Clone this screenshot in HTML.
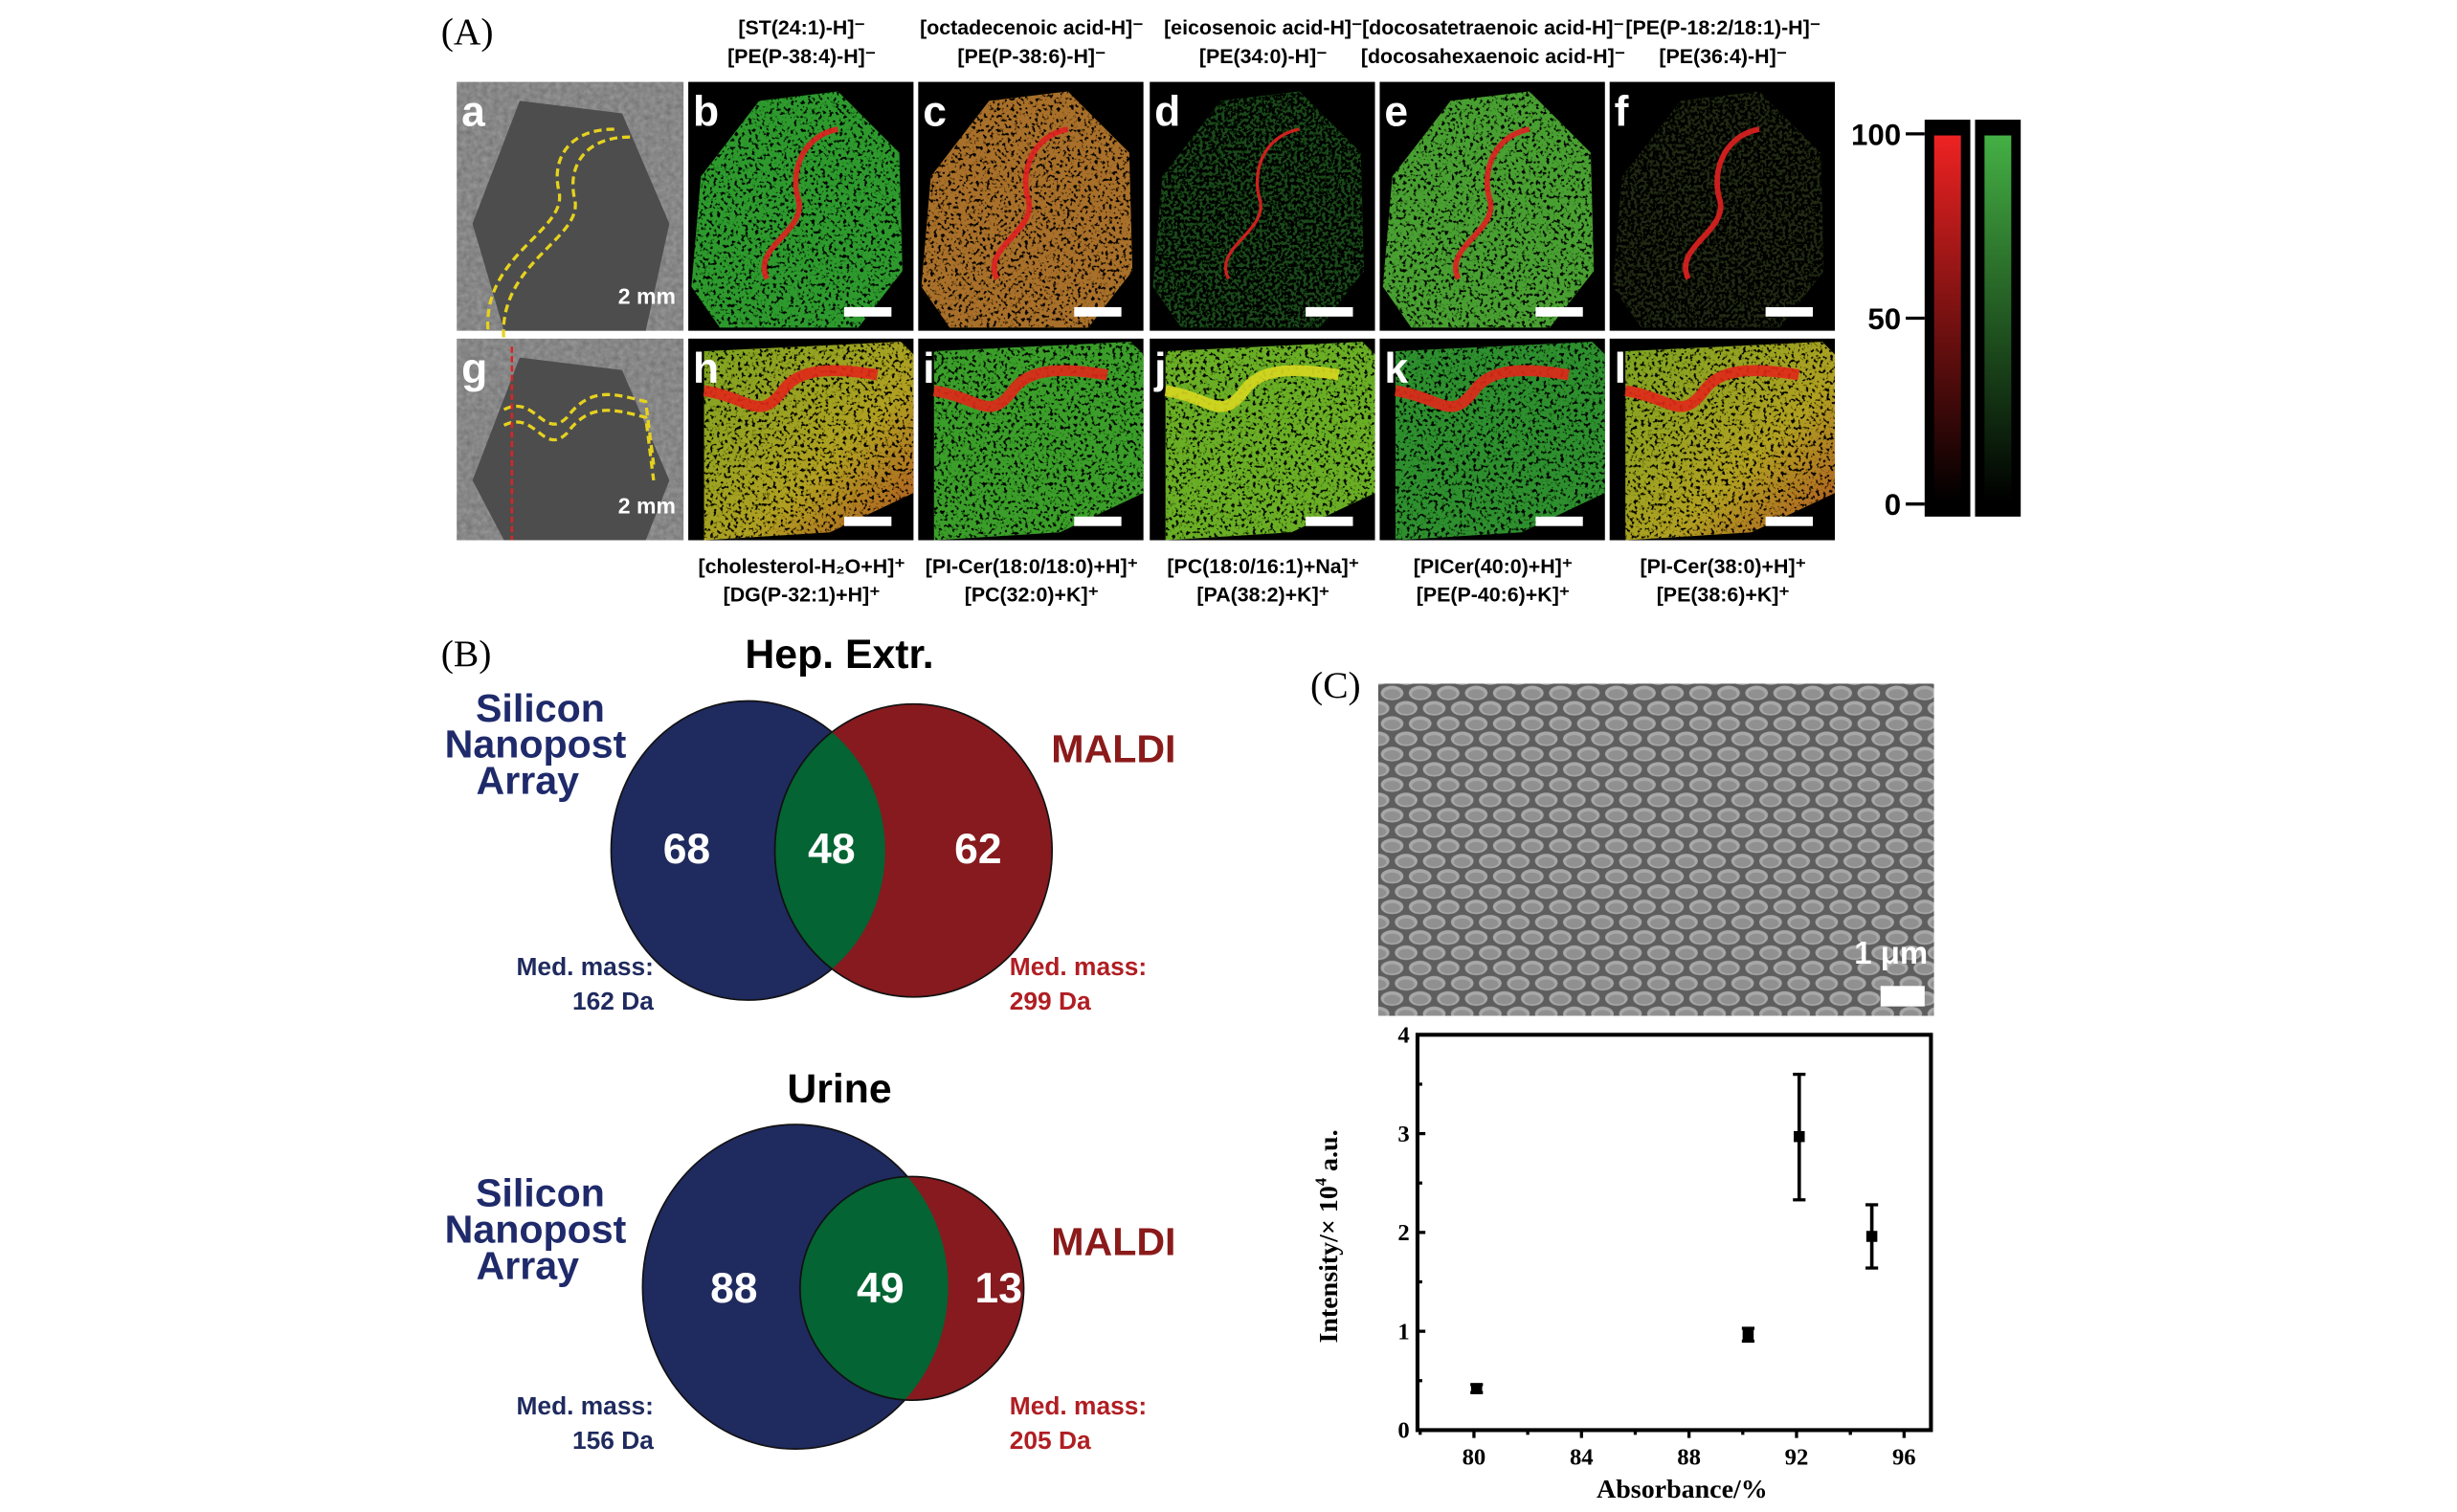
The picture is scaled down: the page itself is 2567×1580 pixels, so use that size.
<!DOCTYPE html>
<html><head><meta charset="utf-8"><style>
html,body{margin:0;padding:0;background:#fff;}
svg{display:block;}
.lbl{font-family:"Liberation Sans",sans-serif;font-weight:bold;font-size:13px;fill:#000;}
.pl{font-family:"Liberation Sans",sans-serif;font-weight:bold;font-size:27px;fill:#fff;}
.sec{font-family:"Liberation Serif",serif;font-size:24px;fill:#000;}
.vt{font-family:"Liberation Sans",sans-serif;font-weight:bold;}
.ser{font-family:"Liberation Serif",serif;font-weight:bold;}
</style></head><body>
<svg id="root" width="2567" height="1580" viewBox="0 0 1560 960" preserveAspectRatio="none" xmlns="http://www.w3.org/2000/svg">
<defs>
<filter id="speck" x="0" y="0" width="100%" height="100%">
<feTurbulence type="fractalNoise" baseFrequency="0.45" numOctaves="2" seed="3" result="n"/>
<feColorMatrix in="n" type="matrix" values="0 0 0 0 0  0 0 0 0 0  0 0 0 0 0  0 0 0 -7 3.3" result="m"/>
<feComposite in="m" in2="SourceGraphic" operator="in" result="spots"/>
<feMerge><feMergeNode in="SourceGraphic"/><feMergeNode in="spots"/></feMerge>
</filter>
<filter id="sparse" x="0" y="0" width="100%" height="100%">
<feTurbulence type="fractalNoise" baseFrequency="0.5" numOctaves="2" seed="7" result="n"/>
<feColorMatrix in="n" type="matrix" values="0 0 0 0 0  0 0 0 0 0  0 0 0 0 0  0 0 0 -9 5.2" result="m"/>
<feComposite in="m" in2="SourceGraphic" operator="in" result="spots"/>
<feMerge><feMergeNode in="SourceGraphic"/><feMergeNode in="spots"/></feMerge>
</filter>
<filter id="grain" x="0" y="0" width="100%" height="100%">
<feTurbulence type="fractalNoise" baseFrequency="0.3" numOctaves="2" seed="2" result="n"/>
<feColorMatrix in="n" type="matrix" values="0 0 0 0 0.5  0 0 0 0 0.5  0 0 0 0 0.5  0 0 0 0.5 0" result="m"/>
<feComposite in="m" in2="SourceGraphic" operator="atop"/>
</filter>
<linearGradient id="redbar" x1="0" y1="0" x2="0" y2="1"><stop offset="0" stop-color="#ee2222"/><stop offset="1" stop-color="#000"/></linearGradient>
<linearGradient id="greenbar" x1="0" y1="0" x2="0" y2="1"><stop offset="0" stop-color="#44b044"/><stop offset="1" stop-color="#000"/></linearGradient>
<linearGradient id="hgrad" x1="0" y1="0" x2="1" y2="1"><stop offset="0" stop-color="#7aa420"/><stop offset="0.6" stop-color="#b0a020"/><stop offset="1" stop-color="#b05020"/></linearGradient>
<pattern id="domes" x="875" y="435" width="17.8" height="19.4" patternUnits="userSpaceOnUse">
<rect width="17.8" height="19.4" fill="#5e5e5e"/>
<ellipse cx="8.9" cy="5" rx="7.2" ry="4.6" fill="#a8a8a8"/><ellipse cx="8.9" cy="5.6" rx="5.2" ry="3" fill="#909090"/>
<ellipse cx="0" cy="14.7" rx="7.2" ry="4.6" fill="#a8a8a8"/><ellipse cx="17.8" cy="14.7" rx="7.2" ry="4.6" fill="#a8a8a8"/>
<ellipse cx="0" cy="15.3" rx="5.2" ry="3" fill="#909090"/><ellipse cx="17.8" cy="15.3" rx="5.2" ry="3" fill="#909090"/>
</pattern>
<clipPath id="semclip"><rect x="875" y="434" width="353" height="211"/></clipPath>
<clipPath id="v1blue"><ellipse cx="475" cy="540" rx="87" ry="95"/></clipPath>
<clipPath id="v2blue"><ellipse cx="505" cy="817" rx="97" ry="103"/></clipPath>
</defs>

<text class="sec" x="280" y="28">(A)</text>
<g id="maps"></g>

<g>
<rect x="1222" y="76" width="29" height="252" fill="#000"/>
<rect x="1228" y="86" width="17" height="232" fill="url(#redbar)"/>
<rect x="1254" y="76" width="29" height="252" fill="#000"/>
<rect x="1260" y="86" width="17" height="232" fill="url(#greenbar)"/>
<line x1="1210" y1="85" x2="1222" y2="85" stroke="#000" stroke-width="2"/>
<line x1="1210" y1="202" x2="1222" y2="202" stroke="#000" stroke-width="2"/>
<line x1="1210" y1="320" x2="1222" y2="320" stroke="#000" stroke-width="2"/>
<text class="vt" x="1207" y="92" font-size="19" text-anchor="end">100</text>
<text class="vt" x="1207" y="209" font-size="19" text-anchor="end">50</text>
<text class="vt" x="1207" y="327" font-size="19" text-anchor="end">0</text>
</g>

<text class="sec" x="280" y="423">(B)</text>
<g>
<text class="vt" x="533" y="424" font-size="26" text-anchor="middle">Hep. Extr.</text>
<ellipse cx="475" cy="540" rx="87" ry="95" fill="#1f2a5e" stroke="#111" stroke-width="1"/>
<ellipse cx="580" cy="540" rx="88" ry="93" fill="#861a1f" stroke="#111" stroke-width="1"/>
<ellipse cx="580" cy="540" rx="88" ry="93" fill="#046433" stroke="#111" stroke-width="1" clip-path="url(#v1blue)"/>
<text class="vt" x="436" y="548" font-size="27" fill="#fff" text-anchor="middle">68</text>
<text class="vt" x="528" y="548" font-size="27" fill="#fff" text-anchor="middle">48</text>
<text class="vt" x="621" y="548" font-size="27" fill="#fff" text-anchor="middle">62</text>
<g fill="#1f2a6b"><text x="343" y="458" class="vt" font-size="25" text-anchor="middle">Silicon</text><text x="340" y="481" class="vt" font-size="25" text-anchor="middle">Nanopost</text><text x="335" y="504" class="vt" font-size="25" text-anchor="middle">Array</text></g>
<text class="vt" x="707" y="484" font-size="25" fill="#8b1a1a" text-anchor="middle">MALDI</text>
<text class="vt" x="415" y="619" font-size="16" fill="#1f2a5e" text-anchor="end">Med. mass:</text>
<text class="vt" x="415" y="641" font-size="16" fill="#1f2a5e" text-anchor="end">162 Da</text>
<text class="vt" x="641" y="619" font-size="16" fill="#b01e23">Med. mass:</text>
<text class="vt" x="641" y="641" font-size="16" fill="#b01e23">299 Da</text>
</g>
<g>
<text class="vt" x="533" y="700" font-size="26" text-anchor="middle">Urine</text>
<ellipse cx="505" cy="817" rx="97" ry="103" fill="#1f2a5e" stroke="#111" stroke-width="1"/>
<ellipse cx="579" cy="818" rx="71" ry="71" fill="#861a1f" stroke="#111" stroke-width="1"/>
<ellipse cx="579" cy="818" rx="71" ry="71" fill="#046433" stroke="#111" stroke-width="1" clip-path="url(#v2blue)"/>
<text class="vt" x="466" y="827" font-size="27" fill="#fff" text-anchor="middle">88</text>
<text class="vt" x="559" y="827" font-size="27" fill="#fff" text-anchor="middle">49</text>
<text class="vt" x="634" y="827" font-size="27" fill="#fff" text-anchor="middle">13</text>
<g fill="#1f2a6b"><text x="343" y="766" class="vt" font-size="25" text-anchor="middle">Silicon</text><text x="340" y="789" class="vt" font-size="25" text-anchor="middle">Nanopost</text><text x="335" y="812" class="vt" font-size="25" text-anchor="middle">Array</text></g>
<text class="vt" x="707" y="797" font-size="25" fill="#8b1a1a" text-anchor="middle">MALDI</text>
<text class="vt" x="415" y="898" font-size="16" fill="#1f2a5e" text-anchor="end">Med. mass:</text>
<text class="vt" x="415" y="920" font-size="16" fill="#1f2a5e" text-anchor="end">156 Da</text>
<text class="vt" x="641" y="898" font-size="16" fill="#b01e23">Med. mass:</text>
<text class="vt" x="641" y="920" font-size="16" fill="#b01e23">205 Da</text>
</g>

<text class="sec" x="832" y="443">(C)</text>
<g clip-path="url(#semclip)">
<rect x="875" y="434" width="353" height="211" fill="url(#domes)"/>
<text x="1224" y="612" font-family="Liberation Sans,sans-serif" font-weight="bold" font-size="20" fill="#fff" text-anchor="end">1 μm</text>
<rect x="1194" y="626" width="28" height="13" fill="#fff"/>
</g>
<g id="chart"></g>
</svg>
<script>
// ---- chart data ----
const absorbance = [80.1, 90.2, 92.1, 94.8];
const intensity = [0.42, 0.97, 2.97, 1.96];
const errUp = [0.04, 0.06, 0.63, 0.32];
const errDown = [0.04, 0.07, 0.64, 0.32];
const xTicks = [80, 84, 88, 92, 96];
const yTicks = [0, 1, 2, 3, 4];
const X0 = 900, X1 = 1226, Y0 = 908, Y1 = 657, XMIN = 77.9, XMAX = 97, YMIN = 0, YMAX = 4;
const NS = 'http://www.w3.org/2000/svg';
function sx(v){return X0 + (v - XMIN) / (XMAX - XMIN) * (X1 - X0);}
function sy(v){return Y0 - (v - YMIN) / (YMAX - YMIN) * (Y0 - Y1);}
function mk(tag, at, parent){const e=document.createElementNS(NS,tag);for(const k in at)e.setAttribute(k,at[k]);parent.appendChild(e);return e;}
const chart = document.getElementById('chart');
const frame = mk('rect',{x:X0,y:Y1,width:X1-X0,height:Y0-Y1,fill:'none',stroke:'#000','stroke-width':2.5},chart);


xTicks.forEach(t=>{
  mk('line',{x1:sx(t),y1:Y0,x2:sx(t),y2:Y0+5,stroke:'#000','stroke-width':2},chart);
  mk('line',{x1:sx(t-2),y1:Y0,x2:sx(t-2),y2:Y0+3,stroke:'#000','stroke-width':2},chart);
  const tx=mk('text',{x:sx(t),y:Y0+22,'text-anchor':'middle','font-size':15,class:'ser'},chart);
  tx.textContent=t;
  
  
});
mk('line',{x1:sx(94),y1:Y0,x2:sx(94),y2:Y0+3,stroke:'#000','stroke-width':2},chart);
yTicks.forEach(t=>{
  mk('line',{x1:X0,y1:sy(t),x2:X0+5,y2:sy(t),stroke:'#000','stroke-width':2},chart);
  if(t<4) mk('line',{x1:X0,y1:sy(t+0.5),x2:X0+3,y2:sy(t+0.5),stroke:'#000','stroke-width':2},chart);
  const ty=mk('text',{x:X0-5,y:sy(t)+5,'text-anchor':'end','font-size':15,class:'ser'},chart);
  ty.textContent=t;
  
  
});
const xl=mk('text',{x:(X0+X1)/2+5,y:951,'text-anchor':'middle','font-size':17,class:'ser'},chart);
xl.textContent='Absorbance/%';


const yl=mk('text',{x:0,y:0,'text-anchor':'middle','font-size':17,class:'ser',transform:'translate(849,785) rotate(-90)'},chart);
yl.innerHTML='Intensity/× 10<tspan font-size="10" dy="-7">4</tspan><tspan dy="7"> a.u.</tspan>';


absorbance.forEach((a,i)=>{
  const g=mk('g',{},chart);
  
  
  const x=sx(a), yt=sy(intensity[i]+errUp[i]), yb=sy(intensity[i]-errDown[i]);
  mk('line',{x1:x,y1:yt,x2:x,y2:yb,stroke:'#000','stroke-width':2.2},g);
  mk('line',{x1:x-4,y1:yt,x2:x+4,y2:yt,stroke:'#000','stroke-width':2},g);
  mk('line',{x1:x-4,y1:yb,x2:x+4,y2:yb,stroke:'#000','stroke-width':2},g);
  mk('rect',{x:x-3.5,y:sy(intensity[i])-3.5,width:7,height:7,fill:'#000'},g);
});

// ---- MS image grid (illustrative, not chart data) ----
const maps=document.getElementById('maps');
const colXs=[437,583,730,876,1022];
const topTitles=[['[ST(24:1)-H]⁻','[PE(P-38:4)-H]⁻'],['[octadecenoic acid-H]⁻','[PE(P-38:6)-H]⁻'],['[eicosenoic acid-H]⁻','[PE(34:0)-H]⁻'],['[docosatetraenoic acid-H]⁻','[docosahexaenoic acid-H]⁻'],['[PE(P-18:2/18:1)-H]⁻','[PE(36:4)-H]⁻']];
const botTitles=[['[cholesterol-H₂O+H]⁺','[DG(P-32:1)+H]⁺'],['[PI-Cer(18:0/18:0)+H]⁺','[PC(32:0)+K]⁺'],['[PC(18:0/16:1)+Na]⁺','[PA(38:2)+K]⁺'],['[PICer(40:0)+H]⁺','[PE(P-40:6)+K]⁺'],['[PI-Cer(38:0)+H]⁺','[PE(38:6)+K]⁺']];
const topFill=['#2f9a2f','#a8702a','#1a4a1a','#4aa030','#202a18'];
const topFilt=['speck','speck','sparse','speck','sparse'];
const botFill=['url(#hgrad)','#3a9e2a','#6aae28','#2f8f2f','url(#hgrad)'];
const letters='abcdefghijkl';
function panel(x,y,w,h,letter,kind,idx){
  const g=mk('g',{},maps);
  
  
  if(kind==='photo'){
    mk('rect',{x:x,y:y,width:w,height:h,fill:'#6e6e6e',filter:'url(#grain)'},g);
    mk('polygon',{points:`${x+40},${y+12} ${x+105},${y+20} ${x+135},${y+90} ${x+120},${y+h} ${x+30},${y+h} ${x+10},${y+90}`,fill:'#4d4d4d'},g);
    mk('path',{d:y<100?`M${x+110},${y+35} c-30,0 -40,20 -35,40 c5,25 -50,40 -45,90`:`M${x+30},${y+45} c20,-10 25,20 40,5 c15,-20 30,-15 50,-10 l5,40`,fill:'none',stroke:'#e6d21e','stroke-width':2,'stroke-dasharray':'5 3'},g);
    mk('path',{d:y<100?`M${x+100},${y+30} c-30,0 -40,20 -35,40 c5,25 -50,40 -45,90`:`M${x+30},${y+55} c20,-10 25,20 40,5 c15,-20 30,-15 50,-10 l5,40`,fill:'none',stroke:'#e6d21e','stroke-width':2,'stroke-dasharray':'5 3'},g);
    if(y>100) mk('line',{x1:x+35,y1:y+5,x2:x+35,y2:y+h,stroke:'#d22','stroke-width':1.5,'stroke-dasharray':'4 2'},g);
    mk('text',{x:x+139,y:y+h-17,'text-anchor':'end','font-family':'Liberation Sans,sans-serif','font-weight':'bold','font-size':14,fill:'#fff'},g).textContent='2 mm';
  } else {
    mk('rect',{x:x,y:y,width:w,height:h,fill:'#000'},g);
    if(y<100){
      mk('polygon',{points:`${x+45},${y+12} ${x+95},${y+6} ${x+134},${y+45} ${x+136},${y+120} ${x+108},${y+h-2} ${x+20},${y+h-2} ${x+2},${y+130} ${x+8},${y+60}`,fill:topFill[idx],filter:`url(#${topFilt[idx]})`},g);
      mk('path',{d:`M${x+95},${y+30} c-25,5 -30,30 -25,45 c5,20 -30,30 -20,50`,fill:'none',stroke:'#e02020','stroke-width':idx===2?2:3.5,opacity:0.9},g);
    } else {
      mk('polygon',{points:`${x+10},${y+8} ${x+135},${y+2} ${x+w},${y+10} ${x+w},${y+h-30} ${x+90},${y+h-5} ${x+10},${y+h}`,fill:botFill[idx],filter:'url(#speck)'},g);
      mk('path',{d:`M${x+10},${y+33} c30,5 35,20 50,0 c10,-14 30,-15 60,-10`,fill:'none',stroke:idx===2?'#d8d820':'#e02818','stroke-width':7,opacity:0.9},g);
    }
    mk('rect',{x:x+w-44,y:y+h-15,width:30,height:6,fill:'#fff'},g);
  }
  mk('text',{x:x+3,y:y+28,class:'pl'},g).textContent=letter;
}
panel(290,52,144,158,'a','photo',0);
panel(290,215,144,128,'g','photo',0);
colXs.forEach((cx,i)=>{
  panel(cx,52,143,158,letters[i+1],'map',i);
  panel(cx,215,143,128,letters[i+7],'map',i);
  topTitles[i].forEach((s,j)=>{
    const t=mk('text',{x:cx+72,y:22+j*18,'text-anchor':'middle',class:'lbl'},maps);
    t.textContent=s;
    
    
  });
  botTitles[i].forEach((s,j)=>{
    const t=mk('text',{x:cx+72,y:364+j*18,'text-anchor':'middle',class:'lbl'},maps);
    t.textContent=s;
    
    
  });
});
</script>
</body></html>
